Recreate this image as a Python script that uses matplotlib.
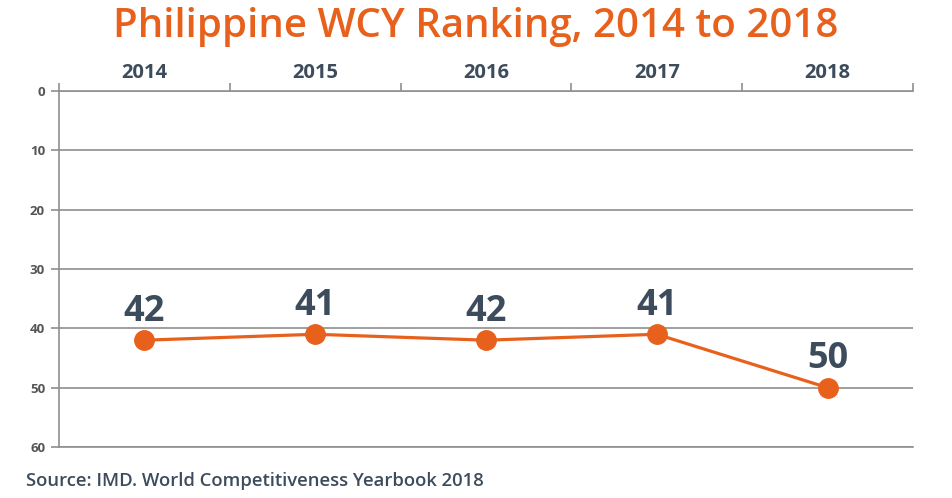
import matplotlib
matplotlib.use("Agg")
import matplotlib.pyplot as plt
from matplotlib.ticker import FixedLocator

years = ["2014", "2015", "2016", "2017", "2018"]
ranks = [42, 41, 42, 41, 50]
yticks = [0, 10, 20, 30, 40, 50, 60]

orange = "#e8611c"
dark = "#3d4c5c"
grid = "#8f8f8f"

fig = plt.figure(figsize=(9.52, 4.98), dpi=100)
ax = fig.add_axes([0.062, 0.1024, 0.897, 0.7149])

x = list(range(len(years)))
ax.plot(x, ranks, color=orange, lw=2.3, marker="o", ms=14, zorder=3, clip_on=False)
for xi, r in zip(x, ranks):
    ax.annotate(str(r), (xi, r), xytext=(0, 14), textcoords="offset points",
                ha="center", va="baseline", fontsize=26, fontweight="bold",
                color=dark, family="Open Sans")

ax.set_xlim(-0.5, len(years) - 0.5)
ax.set_ylim(60, 0)
ax.set_yticks(yticks)
ax.set_yticklabels([str(t) for t in yticks], fontsize=9.5, fontweight="bold",
                   color="#555555", family="Open Sans")
ax.tick_params(axis="y", length=6, width=1.2, color=grid, pad=4)

ax.xaxis.tick_top()
ax.set_xticks(x)
ax.set_xticklabels(years, fontsize=14.5, fontweight="bold", color=dark, family="Open Sans")
ax.tick_params(axis="x", which="major", length=0, pad=6)
ax.xaxis.set_minor_locator(FixedLocator([i - 0.5 for i in range(len(years) + 1)]))
ax.tick_params(axis="x", which="minor", top=True, bottom=False, length=6, width=1.2,
               color=grid, direction="out")

ax.yaxis.grid(True, color=grid, lw=1.2)
ax.set_axisbelow(True)
for s in ["right"]:
    ax.spines[s].set_visible(False)
for s in ["top", "left", "bottom"]:
    ax.spines[s].set_color(grid)
    ax.spines[s].set_linewidth(1.2)

fig.text(0.5, 0.945, "Philippine WCY Ranking, 2014 to 2018", ha="center", va="center",
         fontsize=29, fontweight="semibold", color=orange, family="Open Sans")
fig.text(0.027, 0.034, "Source: IMD. World Competitiveness Yearbook 2018", ha="left",
         va="center", fontsize=13.3, fontweight="semibold", color=dark, family="Open Sans")

fig.savefig("out.png", dpi=100)
